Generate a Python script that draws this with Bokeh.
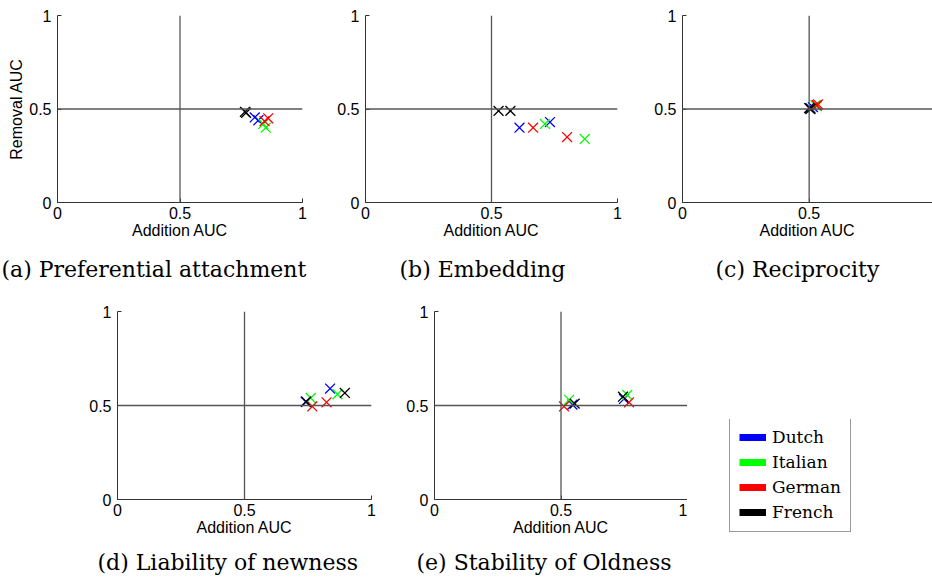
from bokeh.plotting import figure
from bokeh.layouts import row, column
from bokeh.models import Range1d, FixedTicker, Span, Title, Legend, LegendItem, ColumnDataSource, Spacer
from bokeh.embed import file_html
from bokeh.resources import INLINE

# ---------------- data ----------------
languages = ["Dutch", "Dutch", "Italian", "Italian", "German", "German", "French", "French"]
legend_order = ["Dutch", "Italian", "German", "French"]
lang_colors = {"Dutch": "#0000ff", "Italian": "#00ff00", "German": "#ff0000", "French": "#000000"}
ticks = [0, 0.5, 1]
tick_labels = {0: "0", 0.5: "0.5", 1: "1"}
x_label = "Addition AUC"
y_label = "Removal AUC"

captions = ["(a) Preferential attachment", "(b) Embedding", "(c) Reciprocity",
            "(d) Liability of newness", "(e) Stability of Oldness"]

pref_add = [0.805, 0.82, 0.84, 0.85, 0.845, 0.86, 0.765, 0.77]
pref_rem = [0.455, 0.44, 0.42, 0.40, 0.435, 0.45, 0.485, 0.48]

emb_add = [0.611, 0.732, 0.712, 0.87, 0.665, 0.80, 0.528, 0.575]
emb_rem = [0.40, 0.43, 0.42, 0.34, 0.40, 0.35, 0.49, 0.49]

rec_add = [0.505, 0.515, 0.525, 0.53, 0.535, 0.53, 0.50, 0.505]
rec_rem = [0.505, 0.51, 0.52, 0.515, 0.525, 0.52, 0.505, 0.50]

lia_add = [0.741, 0.837, 0.761, 0.866, 0.767, 0.823, 0.743, 0.895]
lia_rem = [0.52, 0.59, 0.54, 0.56, 0.495, 0.517, 0.52, 0.567]

sta_add = [0.545, 0.749, 0.532, 0.762, 0.512, 0.769, 0.554, 0.745]
sta_rem = [0.505, 0.535, 0.53, 0.556, 0.495, 0.517, 0.51, 0.547]

SANS = "Liberation Sans"
SERIF = "DejaVu Serif"


def panel(xs, ys, caption, left, fw, right, top, fh, bottom, cap_offset, cap_standoff,
          xend=1.0, ylab=None):
    p = figure(width=left + fw + right, height=top + fh + bottom,
               min_border_left=left, min_border_right=right,
               min_border_top=top, min_border_bottom=bottom,
               x_range=Range1d(0, xend), y_range=Range1d(0, 1),
               output_backend="svg", toolbar_location=None, title=None)
    p.outline_line_color = None
    p.xgrid.visible = False
    p.ygrid.visible = False
    p.background_fill_color = "white"
    p.border_fill_color = "white"
    for ax in (p.xaxis[0], p.yaxis[0]):
        ax.ticker = FixedTicker(ticks=ticks)
        ax.major_label_overrides = tick_labels
        ax.major_tick_in = 4
        ax.major_tick_out = 0
        ax.minor_tick_in = 0
        ax.minor_tick_out = 0
        ax.axis_line_color = "#333333"
        ax.major_tick_line_color = "#333333"
        ax.major_label_text_font = SANS
        ax.major_label_text_font_size = "16px"
        ax.major_label_text_color = "black"
        ax.axis_label_text_font = SANS
        ax.axis_label_text_font_size = "16px"
        ax.axis_label_text_font_style = "normal"
        ax.axis_label_text_color = "black"
    p.xaxis.major_label_standoff = 4
    p.xaxis.axis_label = x_label
    p.xaxis.axis_label_standoff = 0
    p.yaxis.major_label_standoff = 6
    if ylab:
        p.yaxis.axis_label = ylab
        p.yaxis.axis_label_standoff = 1
    p.add_layout(Span(location=0.5, dimension="height", line_color="#555555", line_width=1.3))
    p.add_layout(Span(location=0.5, dimension="width", line_color="#555555", line_width=1.3))
    src = ColumnDataSource(dict(x=xs, y=ys, color=[lang_colors[l] for l in languages]))
    p.scatter("x", "y", source=src, marker="x", size=14, line_color="color", line_width=1.3)
    t = Title(text=caption, align="left", text_font=SERIF, text_font_size="22px",
              text_font_style="normal", text_color="black", offset=cap_offset,
              standoff=cap_standoff)
    p.add_layout(t, "below")
    return p


pa = panel(pref_add, pref_rem, captions[0], 57, 245, 10, 15, 187, 93, -56, 26, ylab=y_label)
pb = panel(emb_add, emb_rem, captions[1], 53, 252, 10, 15, 187, 93, 34, 26)
pc = panel(rec_add, rec_rem, captions[2], 55, 250, 0, 15, 187, 93, 33, 26, xend=250 / 253.3)
pd = panel(lia_add, lia_rem, captions[3], 117, 254, 10, 16, 188, 84, -20, 18)
pe = panel(sta_add, sta_rem, captions[4], 53, 253, 0, 16, 188, 84, -18, 18)

# legend figure
pl = figure(width=245, height=164, min_border=0,
            x_range=Range1d(10, 11), y_range=Range1d(10, 11),
            x_axis_type=None, y_axis_type=None, output_backend="svg",
            toolbar_location=None, title=None)
pl.outline_line_color = None
pl.xgrid.visible = False
pl.ygrid.visible = False
items = []
for lang in legend_order:
    r = pl.line(x=[0, 1], y=[0, 1], line_color=lang_colors[lang], line_width=7)
    items.append(LegendItem(label=lang, renderers=[r]))
leg = Legend(items=items, location=(42, 51), label_text_font=SERIF, label_text_font_size="17px",
             label_text_color="black",
             label_height=20, glyph_height=20, glyph_width=27, spacing=5, padding=9,
             label_standoff=6, border_line_color="#333333", border_line_width=1,
             margin=0, background_fill_alpha=1.0)
pl.add_layout(leg, "center")

legend_col = column(Spacer(width=245, height=124), pl)
layout = column(row(pa, pb, pc), row(pd, pe, legend_col))
open("out.html", "w").write(file_html(layout, INLINE))
